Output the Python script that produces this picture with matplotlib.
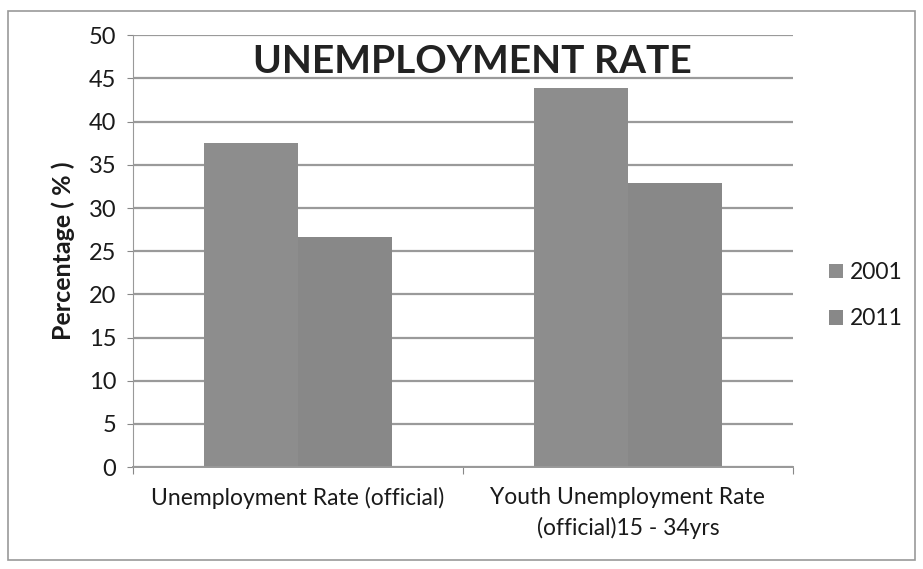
import numpy as np
import matplotlib
matplotlib.use('Agg')
from matplotlib import pyplot as plt
from matplotlib.patches import Rectangle

categories = ['Unemployment Rate (official)', 'Youth Unemployment Rate\n(official)15 - 34yrs']
years = ['2001', '2011']
rate_2001 = [37.5, 43.9]
rate_2011 = [26.7, 32.9]
yticks = [0, 5, 10, 15, 20, 25, 30, 35, 40, 45, 50]

plt.rcParams['font.family'] = ['Lato', 'DejaVu Sans']

fig = plt.figure(figsize=(9.23, 5.69), dpi=100)
ax = fig.add_axes([0.144, 0.179, 0.715, 0.759])

x = np.arange(len(categories))
w = 0.285
ax.bar(x - w/2, rate_2001, w, color='#8d8d8d', label=years[0], zorder=2)
ax.bar(x + w/2, rate_2011, w, color='#888888', label=years[1], zorder=2)

ax.set_xlim(-0.5, 1.5)
ax.set_ylim(0, 50)
ax.set_yticks(yticks)
ax.yaxis.grid(True, color='#9a9a9a', linewidth=1.6, zorder=0)
ax.set_axisbelow(True)

# category boundaries carry the tick marks, labels sit in the middle
ax.set_xticks([-0.5, 0.5, 1.5])
ax.set_xticklabels([])
ax.set_xticks(x, minor=True)
ax.set_xticklabels(categories, minor=True, fontsize=16.5, color='#1a1a1a', linespacing=1.5)
ax.tick_params(axis='x', which='minor', length=0, pad=14)
ax.tick_params(axis='x', which='major', length=5, color='#888888')
ax.tick_params(axis='y', labelsize=17, length=4, color='#888888', labelcolor='#1a1a1a', pad=8)

for s in ['top', 'right']:
    ax.spines[s].set_visible(False)
ax.spines['left'].set_color('#999999')
ax.spines['bottom'].set_color('#999999')
ax.spines['bottom'].set_linewidth(1.4)

ax.set_ylabel('Percentage ( % )', fontsize=18, fontweight='bold', color='#1a1a1a', labelpad=10)
ax.text(0.515, 0.94, 'UNEMPLOYMENT RATE', transform=ax.transAxes, ha='center', va='center',
        fontsize=28, fontweight='bold', color='#222222')

fig.legend(loc='center left', bbox_to_anchor=(0.876, 0.48), frameon=False, fontsize=16.5,
           handlelength=0.6, handleheight=0.6, handletextpad=0.3, labelspacing=1.1,
           labelcolor='#1a1a1a')

# chart border
fig.patches.append(Rectangle((0.009, 0.016), 0.982, 0.965, transform=fig.transFigure,
                             fill=False, edgecolor='#999999', linewidth=1.2))

fig.savefig('out.png', dpi=100)
